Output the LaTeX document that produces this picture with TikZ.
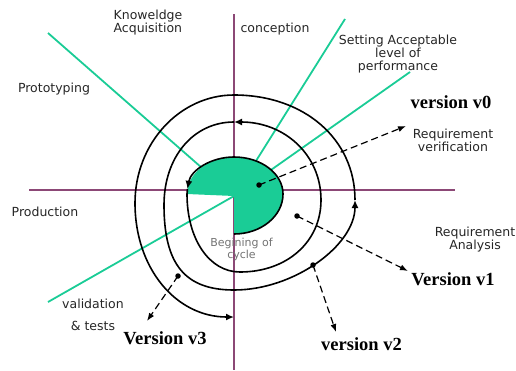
\documentclass[tikz,border=0pt]{standalone}
\usepackage{fontspec}
\setmainfont{DejaVu Sans}
\newfontfamily\verfont{Liberation Serif}
\usetikzlibrary{arrows.meta}
\definecolor{sgreen}{RGB}{26,204,150}
\definecolor{axiscol}{RGB}{140,72,118}
\begin{document}
\begin{tikzpicture}[x=1pt,y=1pt,yscale=-1,
  axisline/.style={draw=axiscol,line width=1.3pt},
  phaseline/.style={draw=sgreen,line width=1.8pt},
  spiral/.style={draw=black,line width=1.6pt},
  sparrow/.style={spiral,-{Latex[length=8pt,width=7pt]}},
  dot/.style={circle,fill=black,inner sep=0pt,minimum size=5.5pt},
  dasharrow/.style={draw=black,line width=1.2pt,dash pattern=on 7pt off 4pt,-{Latex[length=8pt,width=6pt]}},
  lbl/.style={font=\fontsize{12.5}{13}\selectfont,text=black!85,inner sep=0pt},
  ver/.style={font=\verfont\bfseries\fontsize{18.5}{20}\selectfont,inner sep=0pt},
]
\useasboundingbox (0,0) rectangle (516,370);

% axes
\coordinate (axT) at (234,14);
\coordinate (axB) at (234,370);
\coordinate (axL) at (29,190);
\coordinate (axR) at (455,190);
\draw[axisline] (axT) -- (axB);
\draw[axisline] (axL) -- (axR);

% phase lines
\coordinate (V) at (234,196);
\coordinate (g1) at (48,33);
\coordinate (g2) at (345,19);
\coordinate (g3) at (410,72);
\coordinate (g4) at (48,302);
\draw[phaseline] (V) -- (g1);
\draw[phaseline] (V) -- (g2);
\draw[phaseline] (V) -- (g3);
\draw[phaseline] (V) -- (g4);

% green pie
\fill[sgreen] (V) -- (234,234)
  arc[start angle=90,end angle=0,x radius=49,y radius=40]
  arc[start angle=0,end angle=-90,x radius=49,y radius=37]
  arc[start angle=-90,end angle=-180,x radius=47,y radius=37] -- cycle;

% spiral points
\coordinate (s0) at (234,234);
\coordinate (s3) at (187,194);
\coordinate (s4) at (240,272);
\coordinate (s5) at (321,200);
\coordinate (s6) at (234,122);
\coordinate (s7) at (164,205);
\coordinate (s8) at (234,290);
\coordinate (s9) at (355,200);
\coordinate (s10) at (234,95);
\coordinate (s11) at (135,203);
\coordinate (s12) at (234,317);

% spiral
\draw[sparrow] (s0)
  arc[start angle=90,end angle=0,x radius=49,y radius=40]
  arc[start angle=0,end angle=-90,x radius=49,y radius=37]
  arc[start angle=-90,end angle=-172,x radius=47,y radius=37];
\draw[sparrow] (187.46,188.85)
  arc[start angle=-172,end angle=-180,x radius=47,y radius=37]
  .. controls (187,239.2) and (209.3,272) .. (s4)
  .. controls (287,272) and (321,241.8) .. (s5)
  .. controls (321,154.8) and (284.5,122) .. (s6);
\draw[sparrow] (s6)
  .. controls (193.4,122) and (164,156.9) .. (s7)
  .. controls (164,264.5) and (185,290) .. (s8)
  .. controls (294.5,290) and (355,245) .. (s9);
\draw[sparrow] (s9)
  .. controls (355,139.1) and (304.2,95) .. (s10)
  .. controls (179.5,95) and (135,143.6) .. (s11)
  .. controls (135,269.1) and (176.6,317) .. (s12);

% dashed version arrows
\node[dot] (d0) at (259,185) {};
\node[dot] (d1) at (297,216) {};
\node[dot] (d2) at (313,265) {};
\node[dot] (d3) at (178,276) {};
\coordinate (t0) at (406,126);
\coordinate (t1) at (408,271);
\coordinate (t2) at (336,332);
\coordinate (t3) at (147,321);
\draw[dasharrow] (d0.center) -- (t0);
\draw[dasharrow] (d1.center) -- (t1);
\draw[dasharrow] (d2.center) -- (t2);
\draw[dasharrow] (d3.center) -- (t3);

% labels
\node[lbl,align=left] (know) at (148,22.5) {Knoweldge\\Acquisition};
\node[lbl] (conc) at (275,29) {conception};
\node[lbl,align=center] (setp) at (398,54.5) {Setting Acceptable\\level of\\performance};
\node[ver] (v0) at (451,102) {version v0};
\node[lbl,align=center] (rv) at (453,140) {Requirement\\verification};
\node[lbl] (proto) at (54,89) {Prototyping};
\node[lbl] (prod) at (45,212) {Production};
\node[lbl,align=center] (ra) at (475,239.5) {Requirement\\Analysis};
\node[ver] (v1) at (453,279) {Version v1};
\node[ver] (v2) at (361.5,344) {version v2};
\node[ver] (v3) at (165,338) {Version v3};
\node[lbl,align=center] (val) at (93,315) {validation\\[9pt]\& tests};
\node[lbl,align=center,font=\fontsize{11}{11.5}\selectfont,text=black!55] (beg) at (241.5,249.5) {Begining of\\cycle};
\end{tikzpicture}
\end{document}
